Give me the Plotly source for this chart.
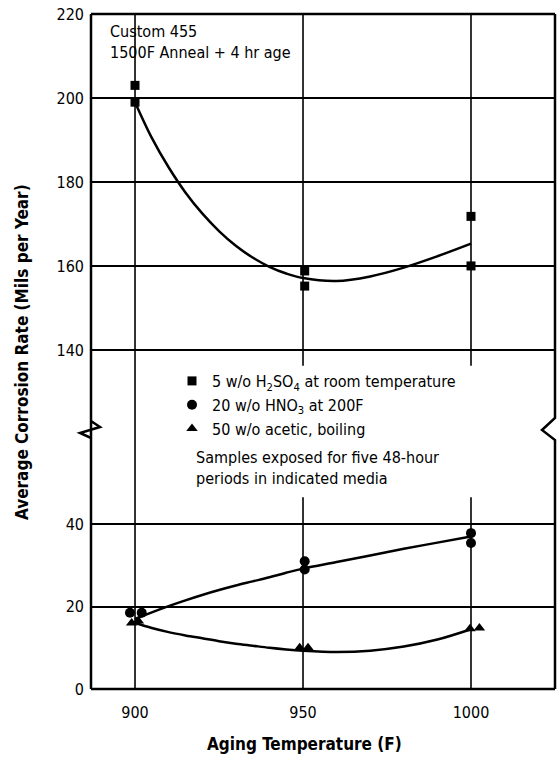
import plotly.graph_objects as go

# ---- data ----
h2so4_x = [900, 900, 950.5, 950.5, 1000, 1000]
h2so4_y = [203, 199, 158.8, 155.2, 171.8, 160.0]

hno3_x = [898.5, 902, 950.5, 950.5, 1000, 1000]
hno3_y = [18.5, 18.5, 31.0, 29.0, 37.8, 35.4]

acetic_x = [899, 901, 949, 951.5, 999.7, 1002.5]
acetic_y = [16.0, 16.5, 10.0, 10.0, 14.6, 14.8]

fit_x = [900, 905, 910, 915, 920, 925, 930, 935, 940, 945, 950, 960, 970, 980, 990, 1000]
h2so4_fit = [199.0, 190.5, 183.5, 177.5, 172.5, 168.3, 164.8, 162.0, 159.8, 158.2, 157.1,
             156.4, 157.5, 159.6, 162.3, 165.3]
hno3_fit = [17.0, 18.6, 20.1, 21.5, 22.8, 24.0, 25.1, 26.1, 27.1, 28.2, 29.2,
            30.8, 32.4, 34.0, 35.5, 37.0]
acetic_fit = [16.0, 14.8, 13.8, 13.0, 12.3, 11.6, 11.0, 10.5, 10.0, 9.6, 9.3,
              9.0, 9.3, 10.3, 12.0, 14.5]

x_ticks = [900, 950, 1000]
upper_ticks = [140, 160, 180, 200, 220]
lower_ticks = [0, 20, 40]

FONT = "Liberation Sans Narrow, DejaVu Sans Condensed, Arial Narrow, sans-serif"
BLACK = "#000000"

# pixel geometry helpers (figure 557x767, plot area 91..555 x 14..689)
L, R, T, B = 91, 555, 14, 689
def px(xp):
    return (xp - L) / (R - L)
def py(yp):
    return (B - yp) / (B - T)

BREAK = py(428)

fig = go.Figure()

line_style = dict(color=BLACK, width=2.5)

# upper panel (xaxis2 / yaxis2)
fig.add_trace(go.Scatter(x=fit_x, y=h2so4_fit, mode="lines", line=dict(shape="spline", **line_style),
                         xaxis="x2", yaxis="y2", showlegend=False, hoverinfo="skip"))
fig.add_trace(go.Scatter(x=h2so4_x, y=h2so4_y, mode="markers", xaxis="x2", yaxis="y2",
                         marker=dict(symbol="square", size=9, color=BLACK),
                         name="5 w/o H<sub>2</sub>SO<sub>4</sub> at room temperature"))

# lower panel
fig.add_trace(go.Scatter(x=fit_x, y=hno3_fit, mode="lines", line=dict(shape="spline", **line_style),
                         showlegend=False, hoverinfo="skip"))
fig.add_trace(go.Scatter(x=fit_x, y=acetic_fit, mode="lines", line=dict(shape="spline", **line_style),
                         showlegend=False, hoverinfo="skip"))
fig.add_trace(go.Scatter(x=hno3_x, y=hno3_y, mode="markers",
                         marker=dict(symbol="circle", size=10, color=BLACK),
                         name="20 w/o HNO<sub>3</sub> at 200F"))
fig.add_trace(go.Scatter(x=acetic_x, y=acetic_y, mode="markers",
                         marker=dict(symbol="triangle-up", size=10, color=BLACK),
                         name="50 w/o acetic, boiling"))

xr = [886.9, 1025]
tickfont = dict(family=FONT, size=16, color=BLACK)

shapes = []
grid = dict(color=BLACK, width=1.6)
shapes.append(dict(type="line", xref="x", yref="paper", x0=900, x1=900, y0=0, y1=1, line=grid, layer="below"))
for xv in x_ticks[1:]:
    shapes.append(dict(type="line", xref="x", yref="y", x0=xv, x1=xv, y0=0, y1=46.5, line=grid, layer="below"))
    shapes.append(dict(type="line", xref="x2", yref="y2", x0=xv, x1=xv, y0=136.2, y1=220, line=grid, layer="below"))

frame = dict(color=BLACK, width=2.5)
shapes.append(dict(type="line", xref="paper", yref="paper", x0=0, x1=1, y0=1, y1=1, line=frame))
shapes.append(dict(type="line", xref="paper", yref="paper", x0=0, x1=1, y0=0, y1=0, line=frame))
left_path = "M {a},{b} L {a},{c} L {d},{e} L {f},{g} L {a},{h} L {a},{i}".format(
    a=px(91), b=py(689), c=py(421), d=px(100), e=py(427), f=px(80), g=py(433), h=py(438), i=py(14))
shapes.append(dict(type="path", xref="paper", yref="paper", path=left_path, line=frame))
right_path = "M {a},{b} L {a},{c} L {d},{e} L {a},{f} L {a},{g}".format(
    a=px(555), b=py(14), c=py(418), d=px(542), e=py(430), f=py(440), g=py(689))
shapes.append(dict(type="path", xref="paper", yref="paper", path=right_path, line=frame))

fig.update_layout(
    width=557, height=767,
    margin=dict(l=L, r=557 - R, t=T, b=767 - B),
    paper_bgcolor="white", plot_bgcolor="white",
    font=dict(family=FONT, color=BLACK),
    xaxis=dict(domain=[0, 1], range=xr, anchor="y", tickvals=x_ticks, showgrid=False, zeroline=False,
               showline=False, ticks="", tickfont=tickfont, ticklabelstandoff=12),
    yaxis=dict(domain=[0, BREAK], range=[0, 63.3], tickvals=lower_ticks, showgrid=True,
               gridcolor=BLACK, gridwidth=1.6, zeroline=False, showline=False, ticks="",
               tickfont=tickfont, ticklabelstandoff=6),
    xaxis2=dict(domain=[0, 1], range=xr, anchor="y2", matches="x", showticklabels=False,
                showgrid=False, zeroline=False, showline=False, ticks=""),
    yaxis2=dict(domain=[BREAK, 1], range=[121.4, 220], tickvals=upper_ticks, showgrid=True,
                gridcolor=BLACK, gridwidth=1.6, zeroline=False, showline=False, ticks="",
                tickfont=tickfont, ticklabelstandoff=6, anchor="x2"),
    legend=dict(x=px(172), y=py(364), xanchor="left", yanchor="top",
                bgcolor="rgba(0,0,0,0)", font=dict(family=FONT, size=16, color=BLACK),
                itemwidth=30, tracegroupgap=0),
    shapes=shapes,
    showlegend=True,
)

ann_font = dict(family=FONT, size=16, color=BLACK)
fig.add_annotation(xref="paper", yref="paper", x=px(108), y=py(20), xanchor="left", yanchor="top",
                   align="left", showarrow=False, font=ann_font,
                   text="Custom 455<br>1500F Anneal + 4 hr age")
fig.add_annotation(xref="paper", yref="paper", x=px(194), y=py(446), xanchor="left", yanchor="top",
                   align="left", showarrow=False, font=ann_font,
                   text="Samples exposed for five 48-hour<br>periods in indicated media")
title_font = dict(family=FONT, size=17, color=BLACK)
fig.add_annotation(xref="paper", yref="paper", x=px(22), y=py(352), xanchor="center", yanchor="middle",
                   textangle=-90, showarrow=False,
                   font=title_font, text="<b>Average Corrosion Rate (Mils per Year)</b>")
fig.add_annotation(xref="paper", yref="paper", x=px(304), y=py(744), xanchor="center", yanchor="middle",
                   showarrow=False,
                   font=title_font, text="<b>Aging Temperature (F)</b>")

fig.write_html("out.html")
